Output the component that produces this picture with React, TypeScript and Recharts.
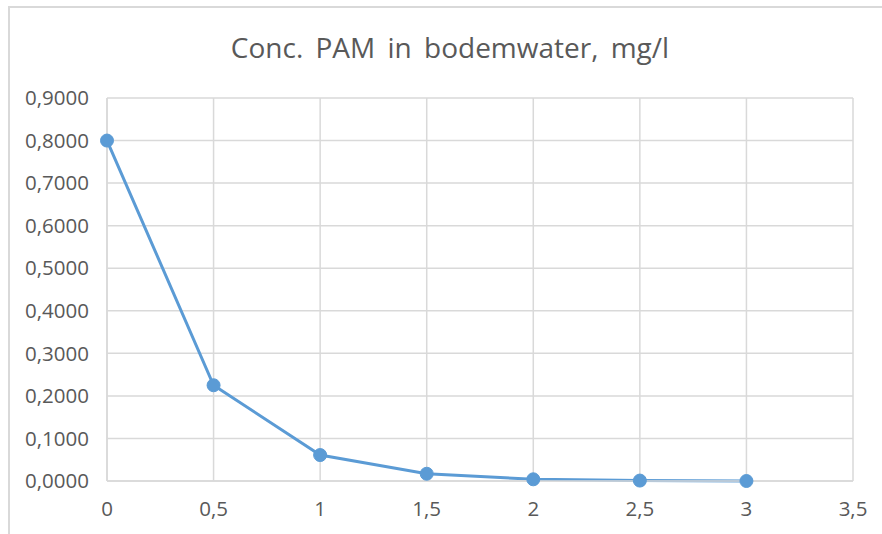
import React from 'react'
import {
    LineChart,
    Line,
    XAxis,
    YAxis,
    CartesianGrid,
} from 'recharts'

const tijd = [0, 0.5, 1, 1.5, 2, 2.5, 3]
const concentratie = [0.8, 0.225, 0.061, 0.017, 0.004, 0.001, 0.0]
const xTicks = [0, 0.5, 1, 1.5, 2, 2.5, 3, 3.5]
const yTicks = [0, 0.1, 0.2, 0.3, 0.4, 0.5, 0.6, 0.7, 0.8, 0.9]
const title = 'Conc. PAM in bodemwater, mg/l'

const chartData = tijd.map((t, i) => ({ t, conc: concentratie[i] }))

const textColor = '#595959'
const gridColor = '#D9D9D9'
const font = '"Open Sans", Lato, sans-serif'

export default function App() {
    return (
        <div style={{ position: 'absolute', left: 0, top: 0, width: 882, height: 534, background: '#fff', overflow: 'hidden' }}>
            <div
                style={{
                    position: 'absolute',
                    left: 8,
                    top: 6,
                    width: 874,
                    height: 528,
                    borderTop: `2px solid ${gridColor}`,
                    borderLeft: `2px solid ${gridColor}`,
                    boxSizing: 'border-box',
                }}
            />
            <div
                style={{
                    position: 'absolute',
                    left: 0,
                    top: 27,
                    width: 900,
                    textAlign: 'center',
                    fontFamily: font,
                    fontSize: 28,
                    wordSpacing: 5,
                    color: textColor,
                    lineHeight: '40px',
                }}
            >
                {title}
            </div>
            <div style={{ position: 'absolute', left: 0, top: 0 }}>
                <LineChart
                    width={882}
                    height={534}
                    data={chartData}
                    margin={{ top: 98, right: 29, bottom: 23, left: 0 }}
                >
                    <CartesianGrid stroke={gridColor} strokeWidth={1.5} />
                    <XAxis
                        dataKey="t"
                        type="number"
                        domain={[0, 3.5]}
                        ticks={xTicks}
                        axisLine={{ stroke: gridColor, strokeWidth: 1.5 }}
                        tickLine={false}
                        tickSize={0}
                        tickMargin={20}
                        height={30}
                        tick={{ fill: textColor, fontSize: 20.5, fontFamily: font }}
                        tickFormatter={(v: number) => String(v).replace('.', ',')}
                    />
                    <YAxis
                        type="number"
                        domain={[0, 0.9]}
                        ticks={yTicks}
                        width={107}
                        axisLine={{ stroke: gridColor, strokeWidth: 1.5 }}
                        tickLine={false}
                        tickSize={0}
                        tickMargin={18}
                        tick={{ fill: textColor, fontSize: 20.5, fontFamily: font }}
                        tickFormatter={(v: number) => v.toFixed(4).replace('.', ',')}
                    />
                    <Line
                        type="linear"
                        dataKey="conc"
                        stroke="#5B9BD5"
                        strokeWidth={3}
                        dot={{ r: 6.5, fill: '#5B9BD5', stroke: '#5B9BD5', strokeWidth: 1 }}
                        isAnimationActive={false}
                    />
                </LineChart>
            </div>
        </div>
    )
}
